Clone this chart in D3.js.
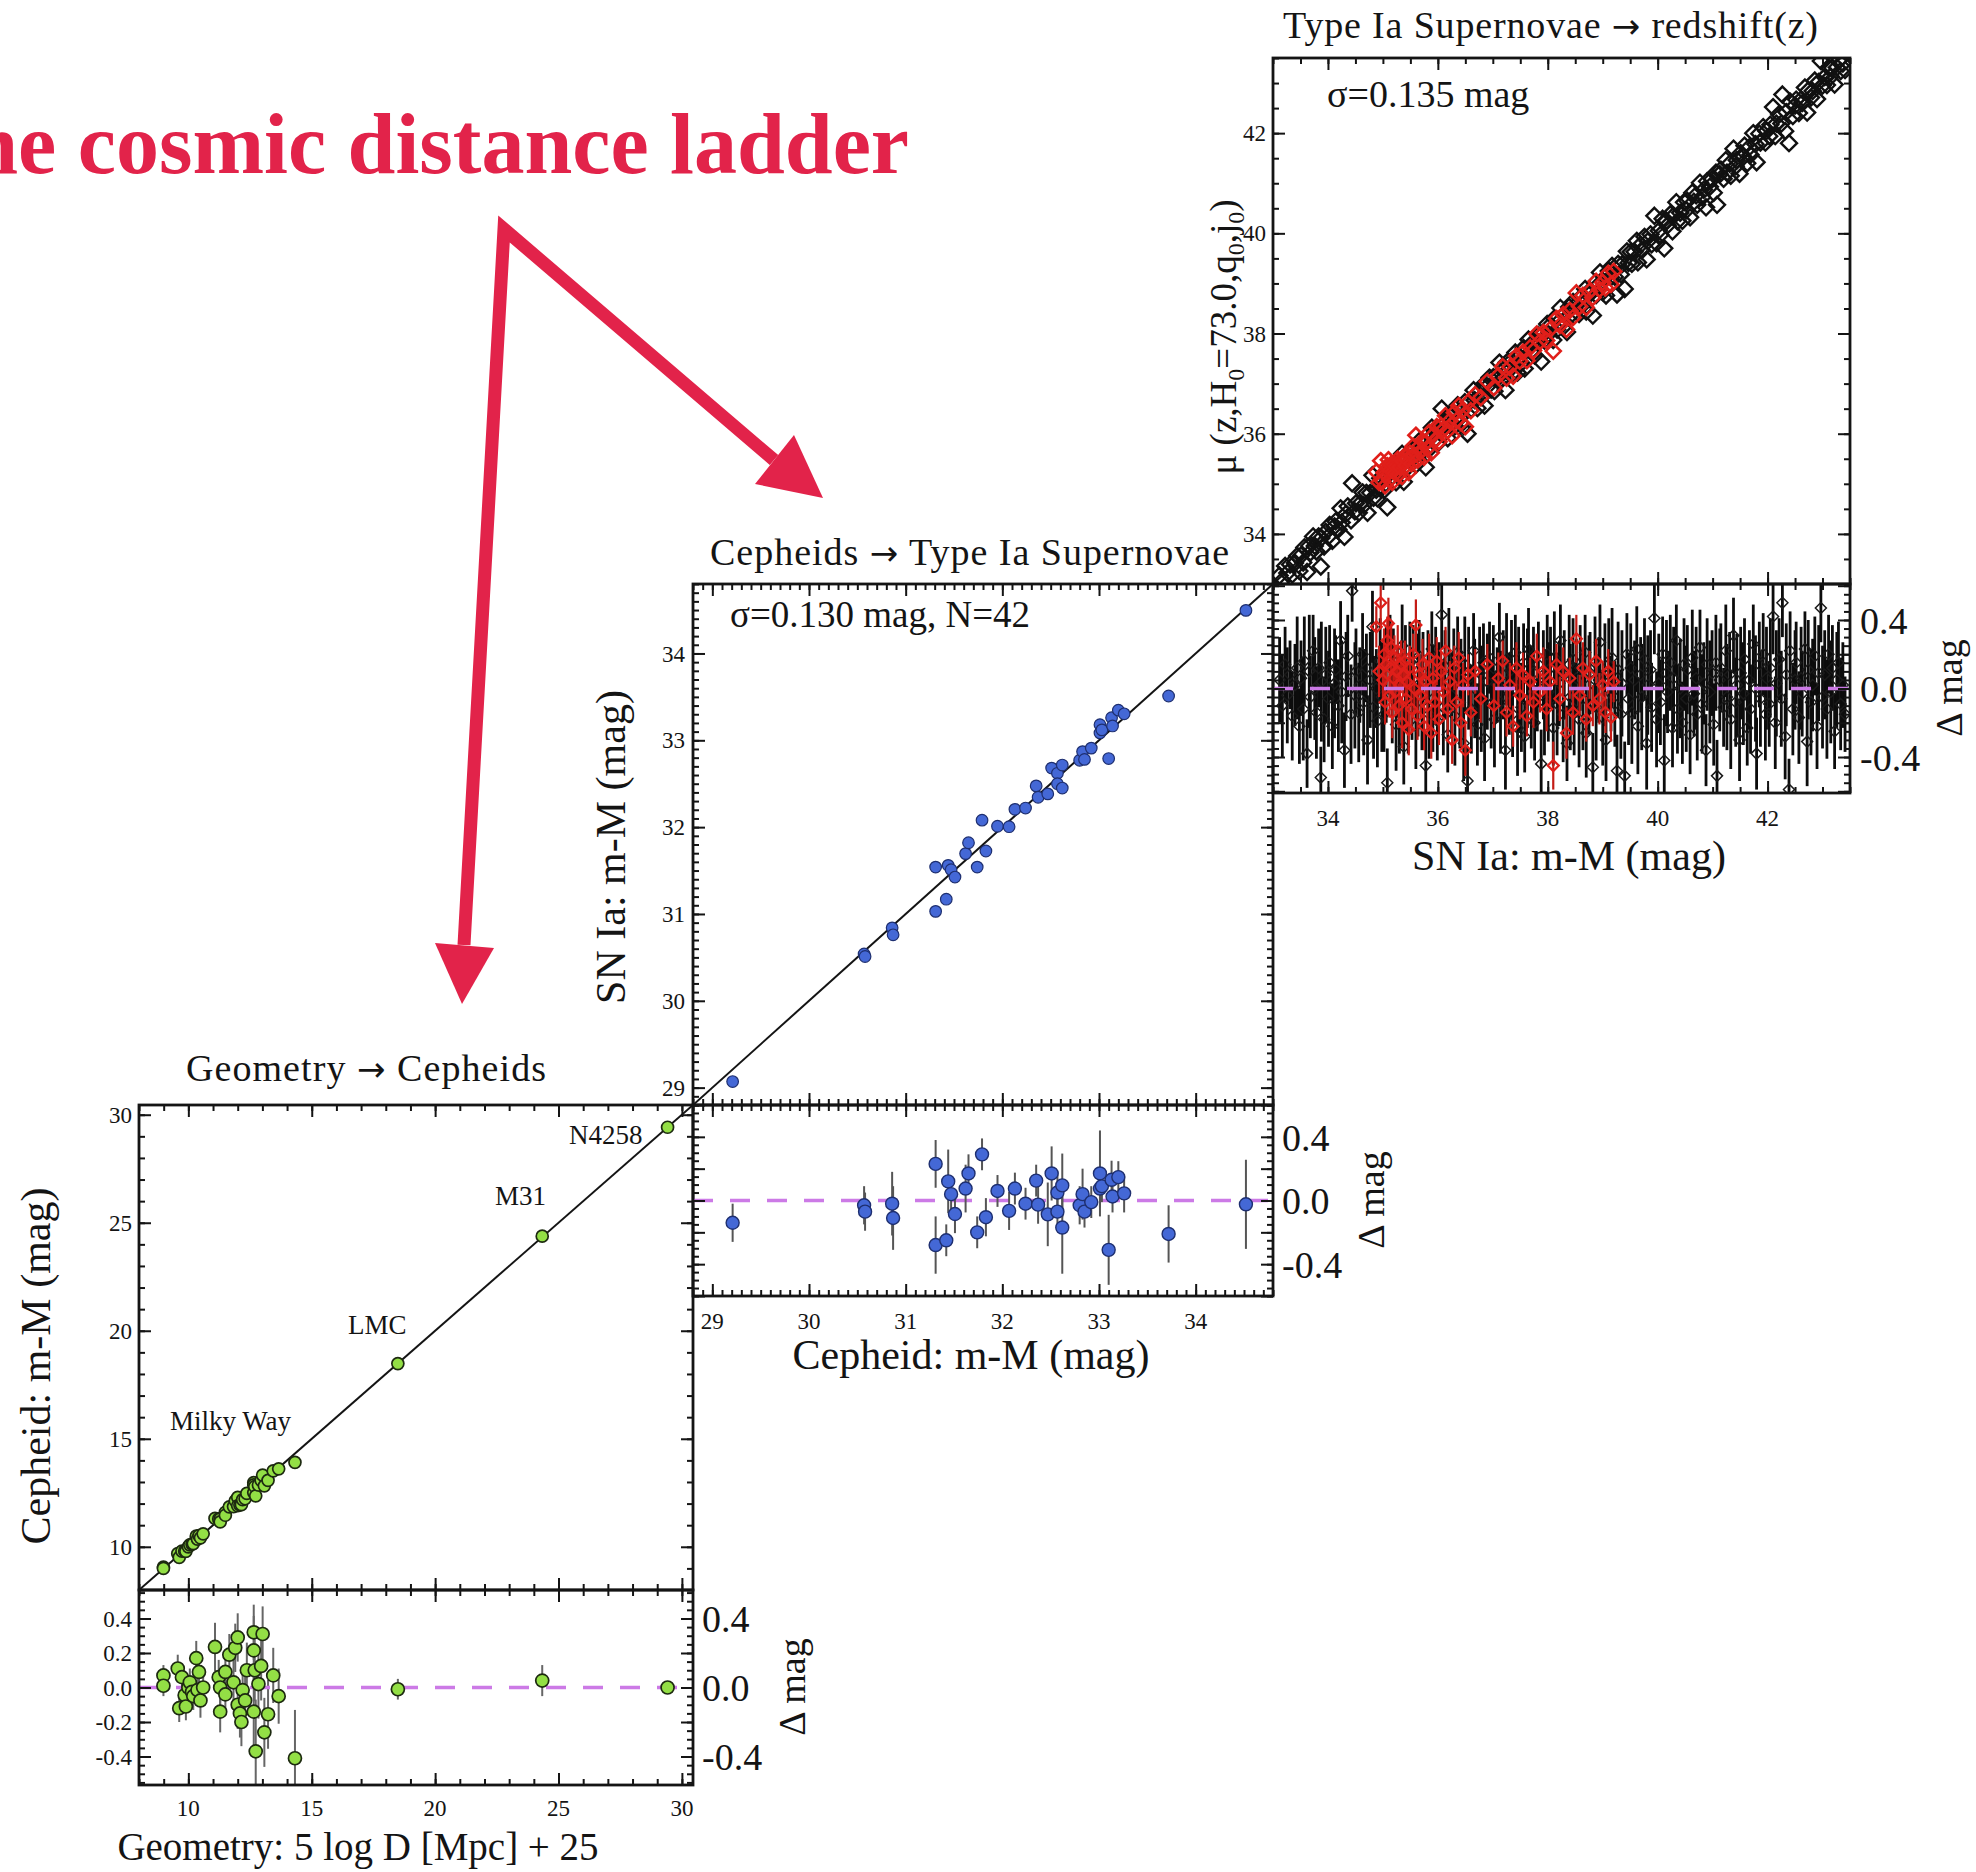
<!DOCTYPE html>
<html>
<head>
<meta charset="utf-8">
<script src="https://cdn.jsdelivr.net/npm/d3@7"></script>
<style>
  html, body { margin: 0; padding: 0; background: #fff; }
  svg text { font-family: "Liberation Serif", "Times New Roman", serif; fill: #141414; }
</style>
</head>
<body>
<svg id="chart" width="1976" height="1872"></svg>
<script>
// ---------------- data ----------------
// Rung 1: geometric distances vs Cepheid distances (Milky Way parallaxes, LMC, M31, N4258)
const geoDist = [8.99, 8.99, 9.57, 9.63, 9.74, 9.85, 9.90, 10.00, 10.06, 10.15,
  10.20, 10.32, 10.37, 10.43, 10.49, 10.60, 11.08, 11.23, 11.29, 11.29,
  11.50, 11.50, 11.66, 11.83, 11.90, 12.00, 12.00, 12.09, 12.15, 12.20,
  12.30, 12.37, 12.65, 12.65, 12.65, 12.69, 12.73, 12.84, 12.95, 13.01,
  13.08, 13.23, 13.44, 13.66, 14.32, 18.49, 24.34, 29.42];
const geoDelta = [0.07, 0.01, 0.11, -0.12, 0.06, -0.045, -0.11, 0.0, 0.03, -0.025,
  -0.05, 0.17, -0.015, 0.09, -0.075, 0.0, 0.235, 0.06, 0.0, -0.14,
  0.09, -0.04, 0.19, 0.03, 0.23, 0.29, -0.10, -0.15, -0.20, -0.015,
  -0.075, 0.10, 0.32, 0.215, -0.14, 0.10, -0.37, 0.02, 0.125, 0.31,
  -0.26, -0.155, 0.07, -0.05, -0.41, -0.01, 0.04, 0.0];
const geoErr = [0.06, 0.06, 0.08, 0.08, 0.07, 0.08, 0.08, 0.07, 0.08, 0.08,
  0.08, 0.10, 0.08, 0.10, 0.10, 0.09, 0.14, 0.10, 0.10, 0.12,
  0.12, 0.12, 0.12, 0.14, 0.14, 0.14, 0.14, 0.14, 0.14, 0.12,
  0.14, 0.16, 0.16, 0.20, 0.20, 0.18, 0.30, 0.20, 0.20, 0.16,
  0.20, 0.20, 0.16, 0.16, 0.28, 0.06, 0.09, 0.03];
const geoSites = ["Milky Way", "LMC", "M31", "N4258"];

// Rung 2: Cepheid distances vs SN Ia distances for the 42 calibrator hosts
const cephMu = [29.21, 30.57, 30.58, 30.86, 30.87,
  31.31, 31.31, 31.42, 31.44, 31.47, 31.51, 31.62, 31.65, 31.74, 31.79, 31.83, 31.95,
  32.07, 32.13, 32.24, 32.35, 32.37, 32.47, 32.51, 32.57, 32.57, 32.62, 32.62, 32.80, 32.83, 32.85, 32.92,
  33.01, 33.01, 33.03, 33.10, 33.13, 33.14, 33.20, 33.26, 33.72, 34.52];
const cephDelta = [-0.14, -0.03, -0.07, -0.02, -0.11,
  0.23, -0.28, -0.25, 0.12, 0.04, -0.085, 0.075, 0.17, -0.20, 0.29, -0.105, 0.06,
  -0.065, 0.075, -0.02, 0.125, -0.026, -0.087, 0.17, 0.05, -0.07, 0.095, -0.17, -0.03, 0.04, -0.07, -0.01,
  0.17, 0.075, 0.09, -0.31, 0.13, 0.025, 0.147, 0.045, -0.21, -0.024];
const cephErr = [0.12, 0.12, 0.12, 0.20, 0.20,
  0.15, 0.18, 0.10, 0.20, 0.10, 0.12, 0.15, 0.12, 0.10, 0.10, 0.12, 0.10,
  0.12, 0.10, 0.10, 0.10, 0.12, 0.20, 0.17, 0.13, 0.12, 0.20, 0.29, 0.12, 0.16, 0.10, 0.10,
  0.27, 0.12, 0.10, 0.22, 0.12, 0.10, 0.10, 0.12, 0.18, 0.28];

// Rung 3: SN Ia distances vs redshift-based distance modulus (Hubble flow sample)
const snMu = [33.12, 33.17, 33.22, 33.26, 33.31, 33.35, 33.40, 33.44, 33.48,
  33.51, 33.55, 33.57, 33.62, 33.66, 33.68, 33.73, 33.76, 33.79, 33.83, 33.87, 33.88, 33.93, 33.96,
  34.01, 34.03, 34.08, 34.12, 34.14, 34.19, 34.23, 34.25, 34.30, 34.33, 34.36, 34.42, 34.44, 34.49,
  34.51, 34.56, 34.58, 34.63, 34.65, 34.70, 34.72, 34.77, 34.81, 34.83, 34.88, 34.90, 34.95, 34.98,
  35.02, 35.06, 35.08, 35.13, 35.17, 35.19, 35.24, 35.27, 35.30, 35.35, 35.38, 35.41, 35.46, 35.49,
  35.53, 35.55, 35.60, 35.64, 35.66, 35.71, 35.73, 35.78, 35.82, 35.84, 35.89, 35.91, 35.96, 35.99,
  36.02, 36.07, 36.10, 36.13, 36.18, 36.20, 36.25, 36.29, 36.31, 36.36, 36.40, 36.42, 36.47, 36.49,
  36.54, 36.56, 36.61, 36.65, 36.67, 36.72, 36.76, 36.79, 36.83, 36.85, 36.90, 36.94, 36.97,
  37.01, 37.03, 37.08, 37.12, 37.14, 37.19, 37.23, 37.25, 37.30, 37.34, 37.36, 37.41, 37.45, 37.47,
  37.52, 37.56, 37.58, 37.63, 37.65, 37.70, 37.74, 37.76, 37.81, 37.83, 37.88, 37.92, 37.94, 37.99,
  38.01, 38.05, 38.10, 38.12, 38.17, 38.21, 38.23, 38.28, 38.30, 38.35, 38.39, 38.41, 38.46, 38.48,
  38.52, 38.57, 38.59, 38.64, 38.68, 38.70, 38.75, 38.77, 38.82, 38.86, 38.88, 38.93, 38.95, 39.00,
  39.04, 39.06, 39.11, 39.15, 39.17, 39.22, 39.26, 39.28, 39.33, 39.35, 39.40, 39.44, 39.47,
  39.51, 39.53, 39.58, 39.62, 39.64, 39.69, 39.71, 39.76, 39.80, 39.82, 39.87, 39.89, 39.94, 39.98,
  40.02, 40.05, 40.09, 40.12, 40.16, 40.18, 40.23, 40.27, 40.29, 40.34, 40.36, 40.41, 40.45, 40.48,
  40.52, 40.54, 40.59, 40.63, 40.66, 40.70, 40.72, 40.77, 40.81, 40.84, 40.88, 40.90, 40.95, 40.99,
  41.02, 41.06, 41.08, 41.13, 41.15, 41.20, 41.24, 41.26, 41.31, 41.33, 41.38, 41.42, 41.44, 41.49,
  41.51, 41.56, 41.58, 41.63, 41.67, 41.69, 41.74, 41.78, 41.80, 41.85, 41.87, 41.92, 41.96, 41.98,
  42.03, 42.05, 42.10, 42.14, 42.16, 42.21, 42.25, 42.27, 42.32, 42.34, 42.39, 42.41, 42.46, 42.50,
  42.52, 42.57, 42.61, 42.63, 42.68, 42.72, 42.74, 42.79, 42.82, 42.86, 42.90, 42.93, 42.97, 43.00,
  43.04, 43.08, 43.11, 43.15, 43.18, 43.22, 43.26, 43.29, 43.33, 43.37, 43.41];
const snDelta = [0.05, -0.10, 0.14, -0.04, 0.08, -0.16, 0.02, 0.12, -0.22,
  0.06, -0.12, 0.16, -0.38, 0.10, -0.05, 0.22, 0.00, -0.14, 0.12, -0.52, 0.04, -0.18, 0.08,
  -0.06, 0.15, -0.22, 0.03, 0.11, -0.10, 0.28, -0.02, -0.36, 0.07, 0.19, -0.15, 0.57, -0.04,
  0.10, -0.14, 0.02, 0.20, -0.08, 0.12, -0.30, 0.05, 0.36, -0.11, 0.00, -0.19, 0.16, -0.05,
  -0.15, 0.08, -0.55, 0.18, -0.02, 0.12, -0.21, 0.04, -0.09, 0.25, -0.34, 0.06, -0.12, 0.15,
  -0.03, 0.14, -0.22, 0.02, 0.19, -0.08, 0.09, -0.45, 0.05, -0.15, 0.23, -0.06, 0.11, -0.19,
  0.03, 0.43, -0.11, 0.08, -0.27, 0.17, -0.04, 0.12, -0.16, 0.21, -0.08, 0.05, -0.32, 0.14,
  -0.54, 0.06, -0.12, 0.22, 0.00, -0.21, 0.09, -0.06, 0.15, -0.29, 0.04, 0.18, -0.09,
  0.12, -0.18, 0.02, 0.30, -0.08, 0.08, -0.36, 0.17, -0.03, 0.11, -0.15, 0.21, -0.23, 0.05,
  -0.11, 0.15, -0.28, 0.06, 0.23, -0.05, 0.09, -0.20, 0.03, 0.14, -0.44, 0.08, -0.08, 0.20,
  -0.02, 0.12, -0.23, 0.18, -0.09, 0.03, 0.28, -0.15, 0.08, -0.32, 0.14, -0.05, 0.17, -0.12,
  0.06, -0.18, 0.12, -0.06, 0.21, -0.26, 0.02, 0.09, -0.46, 0.15, -0.11, 0.05, 0.27, -0.17,
  0.08, -0.30, 0.14, -0.03, 0.18, -0.09, -0.48, 0.11, -0.15, 0.03, -0.51, 0.20, -0.06,
  0.12, -0.14, 0.05, 0.23, -0.22, 0.08, -0.05, 0.17, -0.32, 0.02, 0.11, -0.11, 0.41, -0.18,
  0.03, -0.08, 0.20, -0.42, 0.09, -0.02, 0.15, -0.23, 0.06, 0.28, -0.12, 0.00, -0.20, 0.14,
  -0.06, 0.11, -0.27, 0.18, -0.03, 0.06, -0.15, 0.24, -0.09, 0.03, -0.36, 0.14, -0.02, 0.09,
  -0.21, 0.15, -0.51, 0.05, 0.12, -0.11, 0.22, -0.05, 0.08, -0.18, 0.31, -0.08, 0.02, -0.30,
  0.09, -0.03, 0.17, -0.23, 0.05, -0.12, 0.26, 0.00, -0.38, 0.14, -0.06, 0.20, -0.15, 0.06,
  -0.09, 0.12, 0.42, -0.20, 0.03, 0.17, -0.06, 0.50, -0.28, 0.08, -0.59, 0.22, -0.12, 0.05,
  0.15, -0.17, 0.06, -0.03, 0.23, -0.31, 0.11, -0.08, 0.02, 0.19, -0.22, 0.09, 0.47, -0.05,
  0.08, -0.12, 0.20, -0.02, 0.12, -0.25, 0.05, 0.15, -0.09, 0.02, -0.15];
const snErr = [0.25, 0.30, 0.22, 0.28, 0.20, 0.26, 0.24, 0.30, 0.22,
  0.22, 0.30, 0.26, 0.20, 0.33, 0.24, 0.21, 0.30, 0.27, 0.23, 0.18, 0.35, 0.25, 0.28,
  0.28, 0.22, 0.25, 0.32, 0.20, 0.27, 0.23, 0.30, 0.22, 0.26, 0.24, 0.29, 0.18, 0.31,
  0.25, 0.29, 0.22, 0.24, 0.31, 0.20, 0.26, 0.28, 0.21, 0.30, 0.23, 0.27, 0.25, 0.32,
  0.22, 0.28, 0.20, 0.25, 0.30, 0.23, 0.27, 0.21, 0.29, 0.24, 0.22, 0.31, 0.26, 0.24,
  0.27, 0.23, 0.25, 0.30, 0.21, 0.28, 0.24, 0.20, 0.29, 0.26, 0.22, 0.31, 0.25, 0.23,
  0.24, 0.20, 0.28, 0.26, 0.22, 0.30, 0.25, 0.23, 0.29, 0.21, 0.27, 0.24, 0.22, 0.28,
  0.20, 0.30, 0.26, 0.22, 0.29, 0.24, 0.27, 0.31, 0.23, 0.25, 0.28, 0.21, 0.26,
  0.25, 0.28, 0.22, 0.20, 0.30, 0.26, 0.23, 0.27, 0.24, 0.29, 0.25, 0.22, 0.28, 0.31,
  0.26, 0.23, 0.21, 0.29, 0.24, 0.30, 0.27, 0.22, 0.28, 0.25, 0.20, 0.26, 0.31, 0.23,
  0.29, 0.24, 0.22, 0.27, 0.30, 0.25, 0.21, 0.28, 0.26, 0.22, 0.29, 0.31, 0.24, 0.27,
  0.23, 0.28, 0.25, 0.30, 0.22, 0.26, 0.29, 0.24, 0.20, 0.27, 0.31, 0.25, 0.22, 0.28,
  0.30, 0.24, 0.27, 0.22, 0.29, 0.25, 0.21, 0.28, 0.26, 0.31, 0.20, 0.24, 0.27,
  0.26, 0.30, 0.23, 0.25, 0.28, 0.22, 0.31, 0.24, 0.27, 0.29, 0.23, 0.26, 0.21, 0.28,
  0.29, 0.25, 0.22, 0.27, 0.31, 0.24, 0.28, 0.23, 0.30, 0.21, 0.26, 0.29, 0.24, 0.27,
  0.31, 0.26, 0.23, 0.28, 0.25, 0.30, 0.27, 0.22, 0.29, 0.24, 0.21, 0.27, 0.30, 0.25,
  0.24, 0.28, 0.21, 0.30, 0.26, 0.23, 0.27, 0.31, 0.25, 0.29, 0.22, 0.26, 0.30, 0.24,
  0.27, 0.30, 0.24, 0.22, 0.29, 0.26, 0.23, 0.31, 0.21, 0.25, 0.28, 0.24, 0.27, 0.30,
  0.25, 0.29, 0.22, 0.27, 0.31, 0.24, 0.28, 0.20, 0.25, 0.30, 0.18, 0.23, 0.27, 0.29,
  0.24, 0.27, 0.30, 0.25, 0.22, 0.26, 0.29, 0.31, 0.27, 0.23, 0.25, 0.28, 0.20, 0.30,
  0.26, 0.29, 0.23, 0.30, 0.25, 0.22, 0.28, 0.24, 0.27, 0.25, 0.22];

// Highlighted subsample (red)
const snRedMu = [34.88, 34.93, 34.96, 35.00, 35.02, 35.04, 35.06, 35.08, 35.10, 35.12,
  35.14, 35.15, 35.17, 35.19, 35.21, 35.23, 35.25, 35.27, 35.29, 35.31,
  35.33, 35.35, 35.37, 35.40, 35.42, 35.44, 35.47, 35.49, 35.52, 35.55,
  35.57, 35.60, 35.63, 35.66, 35.69, 35.72, 35.75, 35.78, 35.81, 35.84,
  35.88, 35.91, 35.95, 35.98, 36.02, 36.06, 36.10, 36.14, 36.18, 36.22,
  36.26, 36.30, 36.34, 36.38, 36.42, 36.46, 36.50, 36.55, 36.60, 36.68,
  36.78, 36.90, 37.02, 37.10, 37.18, 37.25, 37.31, 37.37, 37.43, 37.49,
  37.55, 37.62, 37.68, 37.74, 37.80, 37.86, 37.92, 37.98, 38.04, 38.10,
  38.16, 38.22, 38.28, 38.34, 38.40, 38.46, 38.52, 38.58, 38.64, 38.70,
  38.76, 38.82, 38.88, 38.94, 39.00, 39.05, 39.10, 39.15, 39.20];
const snRedDelta = [0.36, 0.10, 0.50, 0.05, 0.20, -0.08, 0.14, 0.28, 0.38, -0.04,
  0.12, 0.24, -0.14, 0.06, 0.18, -0.02, 0.10, 0.22, -0.10, 0.02,
  0.14, -0.20, 0.08, 0.16, -0.06, 0.04, -0.24, 0.12, -0.12, 0.20,
  0.00, 0.37, -0.16, 0.08, -0.04, 0.14, -0.22, 0.04, -0.10, 0.18,
  -0.26, 0.06, -0.08, 0.16, -0.18, 0.10, -0.02, 0.22, -0.12, 0.04,
  -0.30, 0.12, -0.08, 0.18, -0.20, 0.02, -0.36, 0.08, -0.14, 0.10,
  -0.06, 0.14, -0.10, 0.06, 0.16, -0.14, 0.02, -0.22, 0.12, -0.04,
  0.08, -0.16, 0.04, -0.08, 0.19, -0.02, 0.10, -0.12, 0.04, -0.45,
  0.14, -0.06, 0.10, -0.26, 0.06, -0.14, 0.29, -0.04, 0.12, -0.18,
  0.08, -0.10, 0.16, -0.06, 0.02, -0.14, 0.10, -0.17, 0.04];
const snRedErr = [0.12, 0.15, 0.14, 0.12, 0.15, 0.13, 0.12, 0.14, 0.15, 0.13,
  0.12, 0.14, 0.15, 0.12, 0.13, 0.14, 0.12, 0.15, 0.13, 0.12,
  0.14, 0.15, 0.13, 0.12, 0.14, 0.12, 0.15, 0.13, 0.14, 0.12,
  0.13, 0.15, 0.14, 0.12, 0.13, 0.15, 0.14, 0.12, 0.13, 0.14,
  0.15, 0.12, 0.13, 0.14, 0.15, 0.12, 0.13, 0.14, 0.15, 0.12,
  0.14, 0.13, 0.12, 0.15, 0.14, 0.13, 0.15, 0.12, 0.14, 0.13,
  0.14, 0.12, 0.13, 0.15, 0.12, 0.14, 0.13, 0.12, 0.15, 0.14,
  0.13, 0.12, 0.14, 0.15, 0.13, 0.12, 0.14, 0.13, 0.15, 0.14,
  0.12, 0.13, 0.14, 0.15, 0.12, 0.13, 0.14, 0.12, 0.15, 0.13,
  0.14, 0.12, 0.13, 0.15, 0.14, 0.12, 0.13, 0.14, 0.12];

// Axis ranges and tick labels
const geoRange = [8, 30.45];
const cephRange = [28.8, 34.8];
const snRange = [33.0, 43.5];
const geoTicks = [10, 15, 20, 25, 30];
const cephTicks = [29, 30, 31, 32, 33, 34];
const snTicks = [34, 36, 38, 40, 42];
const geoResidTicks = [0.4, 0.2, 0.0, -0.2, -0.4];
const geoResidTickLabels = ["0.4", "0.2", "0.0", "-0.2", "-0.4"];
const residRightTicks = [0.4, 0.0, -0.4];
const residRightLabels = ["0.4", "0.0", "-0.4"];

// ---------------- layout ----------------
const W = 1976, H = 1872;
const INK = "#141414";
const ACCENT = "#e2234a";
const ZERO = "#cc7ae6";
const P = {
  geo:  { x0: 139,  x1: 693,  y0: 1105, ym: 1590, y1: 1785, resid: 0.565 },
  ceph: { x0: 693,  x1: 1273, y0: 584,  ym: 1105, y1: 1296, resid: 0.6 },
  sn:   { x0: 1273, x1: 1850, y0: 58,   ym: 584,  y1: 793,  resid: 0.61 }
};

const svg = d3.select("#chart");
svg.append("rect").attr("width", W).attr("height", H).attr("fill", "#fff");
const defs = svg.append("defs");
let clipCount = 0;
function clip(x0, y0, x1, y1) {
  const id = "clip" + (clipCount++);
  defs.append("clipPath").attr("id", id).append("rect")
    .attr("x", x0).attr("y", y0).attr("width", x1 - x0).attr("height", y1 - y0);
  return `url(#${id})`;
}

function stepTicks(domain, step) {
  const out = [];
  for (let k = Math.ceil(domain[0] / step - 1e-6); k * step <= domain[1] + 1e-6; k++) out.push(+(k * step).toFixed(6));
  return out;
}

// box with inward ticks on all four sides
function frame(xs, ys, xMajor, xMinor, yMajor, yMinor) {
  const g = svg.append("g").attr("color", INK);
  const [xa, xb] = xs.range();
  const [yb, ya] = ys.range();
  const sides = [
    [() => d3.axisBottom(xs), `translate(0,${yb})`, xMajor, xMinor],
    [() => d3.axisTop(xs), `translate(0,${ya})`, xMajor, xMinor],
    [() => d3.axisLeft(ys), `translate(${xa},0)`, yMajor, yMinor],
    [() => d3.axisRight(ys), `translate(${xb},0)`, yMajor, yMinor]
  ];
  sides.forEach(([mk, tr, major, minor]) => {
    [[minor, 6], [major, 12]].forEach(([vals, len]) => {
      g.append("g").attr("transform", tr)
        .call(mk().tickValues(vals).tickSize(-len).tickFormat(""))
        .call(s => { s.select(".domain").remove(); s.selectAll("line").attr("stroke-width", 2); });
    });
  });
  g.append("rect").attr("x", xa).attr("y", ya).attr("width", xb - xa).attr("height", yb - ya)
    .attr("fill", "none").attr("stroke", INK).attr("stroke-width", 2.8);
}

function diagonal(g, xs, ys, dom) {
  g.append("line")
    .attr("x1", xs(dom[0])).attr("y1", ys(dom[0]))
    .attr("x2", xs(dom[1])).attr("y2", ys(dom[1]))
    .attr("stroke", INK).attr("stroke-width", 2);
}

function zeroLine(g, xs, rs) {
  g.append("line")
    .attr("x1", xs.range()[0]).attr("x2", xs.range()[1])
    .attr("y1", rs(0)).attr("y2", rs(0))
    .attr("stroke", ZERO).attr("stroke-width", 3.4).attr("stroke-dasharray", "20,17");
}

function errorBars(g, rows, xs, rs, color, width) {
  g.append("g").selectAll("line").data(rows).join("line")
    .attr("x1", d => xs(d.x)).attr("x2", d => xs(d.x))
    .attr("y1", d => rs(d.d + d.e)).attr("y2", d => rs(d.d - d.e))
    .attr("stroke", color).attr("stroke-width", width);
}

const diamond = r => `M0,${-r}L${r},0L0,${r}L${-r},0Z`;

function rowsOf(xv, dv, ev) {
  const n = Math.min(xv.length, dv.length, ev.length);
  return d3.range(n).map(i => ({ x: xv[i], d: dv[i], e: ev[i] }));
}

function leftLabels(vals, labels, scale, x, size) {
  svg.append("g").selectAll("text").data(vals).join("text")
    .attr("x", x).attr("y", d => scale(d)).attr("dy", "0.35em")
    .attr("text-anchor", "end").attr("font-size", size)
    .text((d, i) => labels[i]);
}
function bottomLabels(vals, scale, y, size) {
  svg.append("g").selectAll("text").data(vals).join("text")
    .attr("x", d => scale(d)).attr("y", y)
    .attr("text-anchor", "middle").attr("font-size", size)
    .text(d => d);
}
function rightResid(rs, x) {
  svg.append("g").selectAll("text").data(residRightTicks).join("text")
    .attr("x", x).attr("y", d => rs(d)).attr("dy", "0.36em")
    .attr("font-size", 38)
    .text((d, i) => residRightLabels[i]);
}
function rotated(text, x, y, size) {
  return svg.append("text").attr("transform", `translate(${x},${y}) rotate(-90)`)
    .attr("text-anchor", "middle").attr("font-size", size).text(text);
}
// panel heading "A → B", spread to its full width
function heading(x, y, width, left, right) {
  const t = svg.append("text").attr("x", x).attr("y", y).attr("font-size", 38)
    .attr("textLength", width).attr("lengthAdjust", "spacing");
  t.append("tspan").text(left + " ");
  t.append("tspan").attr("font-family", "DejaVu Sans").attr("font-size", 34).text("\u2192");
  t.append("tspan").text(" " + right);
}

// ---------------- panel 1: Geometry -> Cepheids ----------------
{
  const p = P.geo;
  const x = d3.scaleLinear().domain(geoRange).range([p.x0, p.x1]);
  const y = d3.scaleLinear().domain(geoRange).range([p.ym, p.y0]);
  const r = d3.scaleLinear().domain([-p.resid, p.resid]).range([p.y1, p.ym]);
  const rows = rowsOf(geoDist, geoDelta, geoErr);

  const gm = svg.append("g").attr("clip-path", clip(p.x0, p.y0, p.x1, p.ym));
  diagonal(gm, x, y, geoRange);
  gm.selectAll("circle").data(rows).join("circle")
    .attr("cx", d => x(d.x)).attr("cy", d => y(d.x + d.d)).attr("r", 6)
    .attr("fill", "#93df45").attr("stroke", "#1d2a10").attr("stroke-width", 1.7);

  const gr = svg.append("g").attr("clip-path", clip(p.x0, p.ym, p.x1, p.y1));
  errorBars(gr, rows, x, r, "#666", 2);
  zeroLine(gr, x, r);
  gr.append("g").selectAll("circle").data(rows).join("circle")
    .attr("cx", d => x(d.x)).attr("cy", d => r(d.d)).attr("r", 6.5)
    .attr("fill", "#93df45").attr("stroke", "#1d2a10").attr("stroke-width", 1.7);

  frame(x, y, geoTicks, stepTicks(geoRange, 1), geoTicks, stepTicks(geoRange, 1));
  frame(x, r, geoTicks, stepTicks(geoRange, 1), stepTicks([-p.resid, p.resid], 0.2), stepTicks([-p.resid, p.resid], 0.05));

  leftLabels(geoTicks, geoTicks.map(String), y, p.x0 - 7, 23);
  leftLabels(geoResidTicks, geoResidTickLabels, r, p.x0 - 7, 23);
  bottomLabels(geoTicks, x, p.y1 + 31, 23);
  rightResid(r, p.x1 + 9);

  // site names next to their anchors
  const sitePos = [[170, 1430], [348, 1334], [495, 1205], [569, 1144]];
  svg.append("g").selectAll("text").data(geoSites).join("text")
    .attr("x", (d, i) => sitePos[i][0]).attr("y", (d, i) => sitePos[i][1])
    .attr("font-size", 27).text(d => d);

  heading(186, 1081, 360, "Geometry", "Cepheids");
  svg.append("text").attr("x", 358).attr("y", 1860).attr("text-anchor", "middle").attr("font-size", 39)
    .text("Geometry: 5 log D [Mpc] + 25");
  rotated("Cepheid: m-M (mag)", 50, 1366, 42);
  rotated("\u0394 mag", 805, 1687, 38);
}

// ---------------- panel 2: Cepheids -> Type Ia Supernovae ----------------
{
  const p = P.ceph;
  const x = d3.scaleLinear().domain(cephRange).range([p.x0, p.x1]);
  const y = d3.scaleLinear().domain(cephRange).range([p.ym, p.y0]);
  const r = d3.scaleLinear().domain([-p.resid, p.resid]).range([p.y1, p.ym]);
  const rows = rowsOf(cephMu, cephDelta, cephErr);

  const gm = svg.append("g").attr("clip-path", clip(p.x0, p.y0, p.x1, p.ym));
  diagonal(gm, x, y, cephRange);
  gm.selectAll("circle").data(rows).join("circle")
    .attr("cx", d => x(d.x)).attr("cy", d => y(d.x + d.d)).attr("r", 5.8)
    .attr("fill", "#4468d6").attr("stroke", "#1e2f70").attr("stroke-width", 1.2);

  const gr = svg.append("g").attr("clip-path", clip(p.x0, p.ym, p.x1, p.y1));
  zeroLine(gr, x, r);
  errorBars(gr, rows, x, r, "#555", 2);
  gr.append("g").selectAll("circle").data(rows).join("circle")
    .attr("cx", d => x(d.x)).attr("cy", d => r(d.d)).attr("r", 6.5)
    .attr("fill", "#4468d6").attr("stroke", "#1e2f70").attr("stroke-width", 1.4);

  frame(x, y, cephTicks, stepTicks(cephRange, 0.1), cephTicks, stepTicks(cephRange, 0.1));
  frame(x, r, cephTicks, stepTicks(cephRange, 0.1), stepTicks([-p.resid, p.resid], 0.2), stepTicks([-p.resid, p.resid], 0.05));

  leftLabels(cephTicks, cephTicks.map(String), y, p.x0 - 8, 23);
  bottomLabels(cephTicks, x, p.y1 + 33, 23);
  rightResid(r, p.x1 + 9);

  heading(710, 565, 519, "Cepheids", "Type Ia Supernovae");
  svg.append("text").attr("x", 730).attr("y", 627).attr("font-size", 37).text("\u03c3=0.130 mag, N=42");
  svg.append("text").attr("x", 971).attr("y", 1369).attr("text-anchor", "middle").attr("font-size", 42)
    .text("Cepheid: m-M (mag)");
  rotated("SN Ia: m-M (mag)", 625, 847, 42);
  rotated("\u0394 mag", 1384, 1200, 38);
}

// ---------------- panel 3: Type Ia Supernovae -> redshift ----------------
{
  const p = P.sn;
  const x = d3.scaleLinear().domain(snRange).range([p.x0, p.x1]);
  const y = d3.scaleLinear().domain(snRange).range([p.ym, p.y0]);
  const r = d3.scaleLinear().domain([-p.resid, p.resid]).range([p.y1, p.ym]);
  const black = rowsOf(snMu, snDelta, snErr);
  const red = rowsOf(snRedMu, snRedDelta, snRedErr);

  const gm = svg.append("g").attr("clip-path", clip(p.x0, p.y0, p.x1, p.ym));
  diagonal(gm, x, y, snRange);
  gm.append("g").selectAll("path").data(black).join("path")
    .attr("d", diamond(8)).attr("transform", d => `translate(${x(d.x)},${y(d.x + d.d)})`)
    .attr("fill", "none").attr("stroke", "#111").attr("stroke-width", 2.4);
  gm.append("g").selectAll("path").data(red).join("path")
    .attr("d", diamond(7.5)).attr("transform", d => `translate(${x(d.x)},${y(d.x + d.d)})`)
    .attr("fill", "none").attr("stroke", "#e01f1a").attr("stroke-width", 2.6);

  const gr = svg.append("g").attr("clip-path", clip(p.x0, p.ym, p.x1, p.y1));
  errorBars(gr, black, x, r, "#0c0c0c", 2.8);
  gr.append("g").selectAll("path").data(black).join("path")
    .attr("d", diamond(5.5)).attr("transform", d => `translate(${x(d.x)},${r(d.d)})`)
    .attr("fill", "none").attr("stroke", "#1a1a1a").attr("stroke-width", 1.5);
  errorBars(gr, red, x, r, "#c41c16", 2.2);
  gr.append("g").selectAll("path").data(red).join("path")
    .attr("d", diamond(5.5)).attr("transform", d => `translate(${x(d.x)},${r(d.d)})`)
    .attr("fill", "none").attr("stroke", "#e01f1a").attr("stroke-width", 2.2);
  zeroLine(gr, x, r);

  frame(x, y, snTicks, stepTicks(snRange, 0.5), snTicks, stepTicks(snRange, 0.5));
  frame(x, r, snTicks, stepTicks(snRange, 0.5), stepTicks([-p.resid, p.resid], 0.2), stepTicks([-p.resid, p.resid], 0.05));

  leftLabels(snTicks, snTicks.map(String), y, p.x0 - 7, 23);
  bottomLabels(snTicks, x, p.y1 + 33, 23);
  rightResid(r, p.x1 + 10);

  heading(1283, 38, 535, "Type Ia Supernovae", "redshift(z)");
  svg.append("text").attr("x", 1327).attr("y", 107).attr("font-size", 38).text("\u03c3=0.135 mag");
  svg.append("text").attr("x", 1569).attr("y", 870).attr("text-anchor", "middle").attr("font-size", 42)
    .text("SN Ia: m-M (mag)");
  rotated("\u0394 mag", 1962, 688, 38);

  // distance-modulus label with subscripts
  const mu = svg.append("text").attr("transform", "translate(1236,337) rotate(-90)")
    .attr("text-anchor", "middle").attr("font-size", 37);
  const parts = [["\u03bc (z,H", false], ["0", true], ["=73.0,q", false], ["0", true], [",j", false], ["0", true], [")", false]];
  parts.forEach(([t, sub], i) => {
    const ts = mu.append("tspan").text(t);
    if (sub) ts.attr("font-size", 24).attr("dy", 8);
    else if (i > 0) ts.attr("dy", -8);
  });
}

// ---------------- headline and pointers ----------------
svg.append("text").attr("x", 909).attr("y", 173).attr("text-anchor", "end")
  .attr("font-size", 86).attr("font-weight", "bold").style("fill", ACCENT)
  .text("The cosmic distance ladder");

const apex = [504, 229];
const pointers = [
  { tip: [462, 1004], base: [464, 945], wings: [[435, 943], [494, 948]] },
  { tip: [823, 498], base: [774, 460], wings: [[755, 484], [794, 435]] }
];
svg.append("path")
  .attr("d", d3.line()([pointers[0].base, apex, pointers[1].base]))
  .attr("fill", "none").attr("stroke", ACCENT).attr("stroke-width", 13)
  .attr("stroke-linejoin", "miter").attr("stroke-miterlimit", 20);
pointers.forEach(a => {
  svg.append("path").attr("d", d3.line()([a.tip, a.wings[0], a.wings[1]]) + "Z").attr("fill", ACCENT);
});
</script>
</body>
</html>
